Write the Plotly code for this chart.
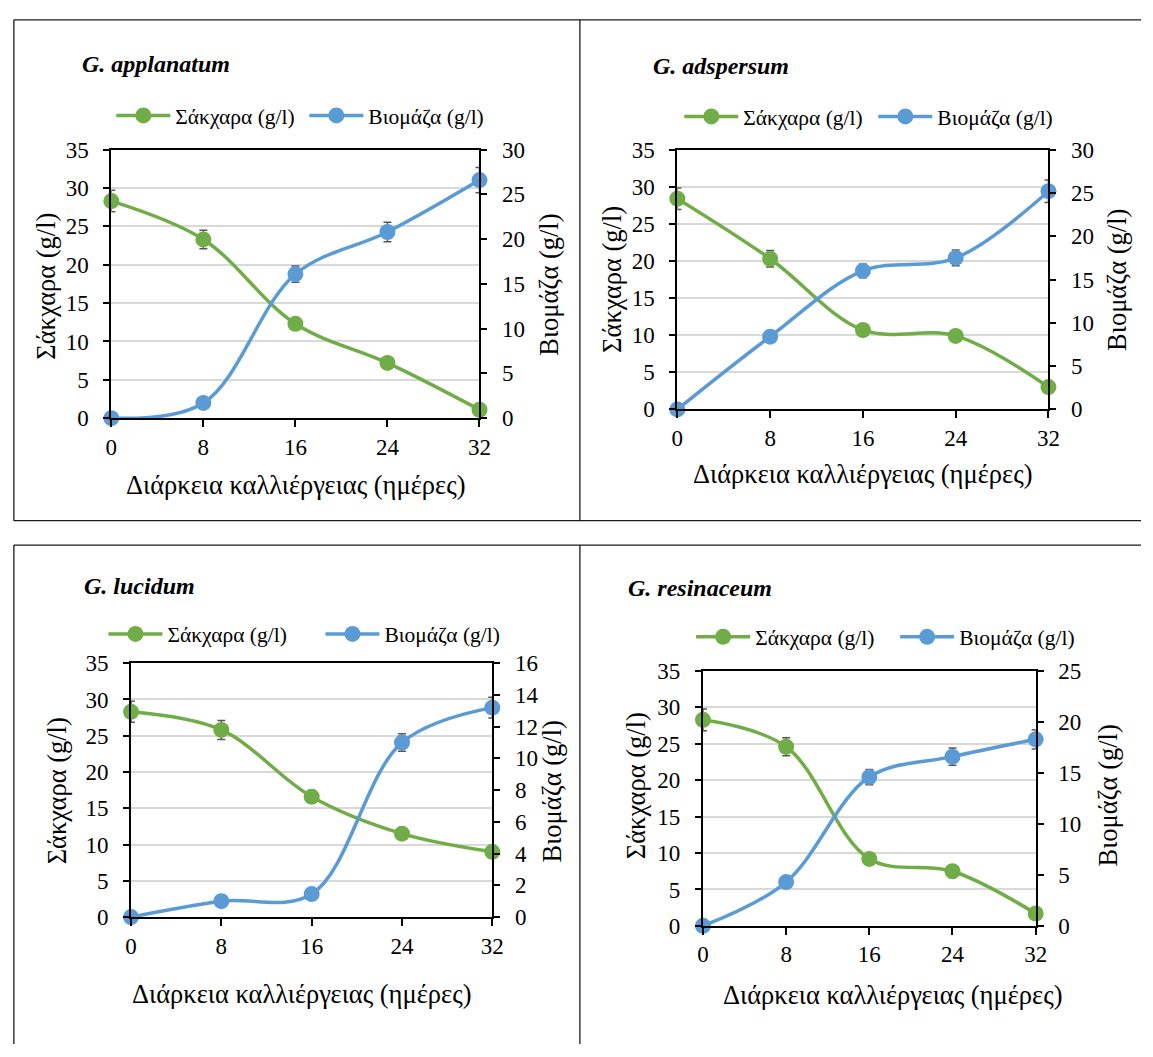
import plotly.graph_objects as go

W, H = 1153, 1057
FONT = "Liberation Serif"
GREEN = "#70AD47"
BLUE = "#5B9BD5"
ERR = "#595959"

days = [0, 8, 16, 24, 32]
species = ["G. applanatum", "G. adspersum", "G. lucidum", "G. resinaceum"]
sugar_name = "Σάκχαρα (g/l)"
biomass_name = "Βιομάζα (g/l)"
x_title = "Διάρκεια καλλιέργειας (ημέρες)"

sugar_applanatum = [28.3, 23.3, 12.3, 7.2, 1.1]
sugar_err_applanatum = [1.4, 1.2, 0.4, 0.3, 0.2]
biomass_applanatum = [0.0, 1.7, 16.1, 20.8, 26.6]
biomass_err_applanatum = [0.1, 0.3, 0.9, 1.1, 1.4]

sugar_adspersum = [28.4, 20.3, 10.7, 9.9, 3.0]
sugar_err_adspersum = [1.45, 1.1, 0.4, 0.3, 0.3]
biomass_adspersum = [0.0, 8.4, 16.0, 17.5, 25.2]
biomass_err_adspersum = [0.1, 0.3, 0.8, 0.9, 1.3]

sugar_lucidum = [28.3, 25.8, 16.6, 11.5, 9.0]
sugar_err_lucidum = [1.45, 1.3, 0.85, 0.3, 0.3]
biomass_lucidum = [0.0, 1.0, 1.45, 11.0, 13.2]
biomass_err_lucidum = [0.05, 0.1, 0.1, 0.55, 0.65]

sugar_resinaceum = [28.3, 24.6, 9.2, 7.5, 1.7]
sugar_err_resinaceum = [1.5, 1.25, 0.4, 0.3, 0.2]
biomass_resinaceum = [0.0, 4.3, 14.6, 16.6, 18.3]
biomass_err_resinaceum = [0.1, 0.3, 0.75, 0.85, 0.95]

sugar_all = [sugar_applanatum, sugar_adspersum, sugar_lucidum, sugar_resinaceum]
sugar_err_all = [sugar_err_applanatum, sugar_err_adspersum, sugar_err_lucidum, sugar_err_resinaceum]
biomass_all = [biomass_applanatum, biomass_adspersum, biomass_lucidum, biomass_resinaceum]
biomass_err_all = [biomass_err_applanatum, biomass_err_adspersum, biomass_err_lucidum, biomass_err_resinaceum]

sugar_range = [0, 35]
biomass_ranges = [[0, 30], [0, 30], [0, 16], [0, 25]]
biomass_dticks = [5, 5, 2, 5]

# layout geometry (pixels)
plot_boxes = [  # left, right, top, bottom
    (107, 481, 141, 416),
    (682, 1059, 141, 407),
    (127, 494, 667, 927),
    (708, 1046, 675, 936),
]
title_pos = [(75, 53), (655, 55), (77, 588), (630, 590)]
legend_pos = [(113, 106), (690, 107), (105, 637), (702, 640)]
legend_pitch = [195, 196, 219, 206]
xtitle_pos = [(294, 484), (870, 473), (300, 1006), (901, 1007)]
ytitle_left = [(41, 281), (615, 274), (52, 798), (640, 793)]
ytitle_right = [(552, 279), (1128, 274), (555, 798), (1119, 803)]


def px(x):
    return x / W


def py(y):
    return 1 - y / H


fig = go.Figure()
layout = dict(
    width=W, height=H, margin=dict(l=0, r=0, t=0, b=0),
    paper_bgcolor="white", plot_bgcolor="white",
    font=dict(family=FONT, color="black", size=23),
    showlegend=True,
)
annotations = []
shapes = []
tickfont = dict(family=FONT, size=23, color="black")
TITLE_SIZE = 26.5

for i in range(4):
    n = i + 1
    xa = "x" if n == 1 else f"x{n}"
    yl_n = 2 * i + 1
    yr_n = 2 * i + 2
    yl = "y" if yl_n == 1 else f"y{yl_n}"
    yr = f"y{yr_n}"
    leg = "legend" if n == 1 else f"legend{n}"
    L, R, T, B = plot_boxes[i]

    fig.add_trace(go.Scatter(
        x=days, y=sugar_all[i], name=sugar_name, mode="lines+markers",
        line=dict(color=GREEN, width=3.5, shape="spline", smoothing=1),
        marker=dict(size=16, color=GREEN),
        error_y=dict(type="data", array=sugar_err_all[i], color=ERR, thickness=1.5, width=4),
        xaxis=xa, yaxis=yl, legend=leg, cliponaxis=False, hoverinfo="x+y",
    ))
    fig.add_trace(go.Scatter(
        x=days, y=biomass_all[i], name=biomass_name, mode="lines+markers",
        line=dict(color=BLUE, width=3.5, shape="spline", smoothing=1),
        marker=dict(size=16, color=BLUE),
        error_y=dict(type="data", array=biomass_err_all[i], color=ERR, thickness=1.5, width=4),
        xaxis=xa, yaxis=yr, legend=leg, cliponaxis=False, hoverinfo="x+y",
    ))

    xkey = "xaxis" if n == 1 else f"xaxis{n}"
    ylkey = "yaxis" if yl_n == 1 else f"yaxis{yl_n}"
    yrkey = f"yaxis{yr_n}"
    layout[xkey] = dict(
        domain=[px(L), px(R)], range=[0, 32], anchor=yl,
        tickmode="array", tickvals=days, ticktext=[str(d) for d in days],
        ticks="outside", ticklen=7, tickwidth=1.5, tickcolor="black",
        showline=True, linecolor="black", linewidth=2, mirror=True,
        showgrid=False, zeroline=False, tickfont=tickfont, ticklabelstandoff=0,
        fixedrange=True,
    )
    layout[ylkey] = dict(
        domain=[py(B), py(T)], range=sugar_range, anchor=xa,
        tickmode="linear", tick0=0, dtick=5,
        ticks="outside", ticklen=6, tickwidth=1.5, tickcolor="black",
        showline=True, linecolor="black", linewidth=2,
        showgrid=True, gridcolor="#D9D9D9", gridwidth=1.5, zeroline=False,
        tickfont=tickfont, ticklabelstandoff=10, fixedrange=True,
    )
    layout[yrkey] = dict(
        overlaying=yl, side="right", anchor=xa, range=biomass_ranges[i],
        tickmode="linear", tick0=0, dtick=biomass_dticks[i],
        ticks="outside", ticklen=6, tickwidth=1.5, tickcolor="black",
        showline=True, linecolor="black", linewidth=2,
        showgrid=False, zeroline=False,
        tickfont=tickfont, ticklabelstandoff=10, fixedrange=True,
    )
    lx, ly = legend_pos[i]
    layout[leg] = dict(
        orientation="h", x=px(lx - 6), y=py(ly), xanchor="left", yanchor="middle",
        font=dict(family=FONT, size=21.5, color="black"), bgcolor="rgba(0,0,0,0)",
        itemwidth=54, entrywidth=legend_pitch[i] - 71, entrywidthmode="pixels",
        itemclick=False, itemdoubleclick=False,
    )

    tx, ty = title_pos[i]
    annotations.append(dict(
        text=f"<b><i>{species[i]}</i></b>", x=px(tx), y=py(ty), xref="paper", yref="paper",
        xanchor="left", yanchor="middle", showarrow=False,
        font=dict(family=FONT, size=24, color="black"),
    ))
    ax_, ay_ = xtitle_pos[i]
    annotations.append(dict(
        text=x_title, x=px(ax_), y=py(ay_), xref="paper", yref="paper",
        xanchor="center", yanchor="middle", showarrow=False,
        font=dict(family=FONT, size=TITLE_SIZE, color="black"),
    ))
    lx_, ly_ = ytitle_left[i]
    annotations.append(dict(
        text=sugar_name, x=px(lx_), y=py(ly_), xref="paper", yref="paper",
        xanchor="center", yanchor="middle", showarrow=False, textangle=-90,
        font=dict(family=FONT, size=TITLE_SIZE, color="black"),
    ))
    rx_, ry_ = ytitle_right[i]
    annotations.append(dict(
        text=biomass_name, x=px(rx_), y=py(ry_), xref="paper", yref="paper",
        xanchor="center", yanchor="middle", showarrow=False, textangle=-90,
        font=dict(family=FONT, size=TITLE_SIZE, color="black"),
    ))

# panel frame lines
border = dict(color="#1a1a1a", width=1.3)
frame_segments = [
    (8, 8, W, 8), (8, 521, W, 521), (8, 8, 8, 521), (583, 8, 583, 521),
    (8, 546, W, 546), (8, 546, 8, H), (583, 546, 583, H),
]
for x0, y0, x1, y1 in frame_segments:
    shapes.append(dict(type="line", xref="paper", yref="paper",
                       x0=px(x0), y0=py(y0), x1=px(x1), y1=py(y1), line=border))

layout["annotations"] = annotations
layout["shapes"] = shapes
fig.update_layout(**layout)
fig.write_html("out.html")
